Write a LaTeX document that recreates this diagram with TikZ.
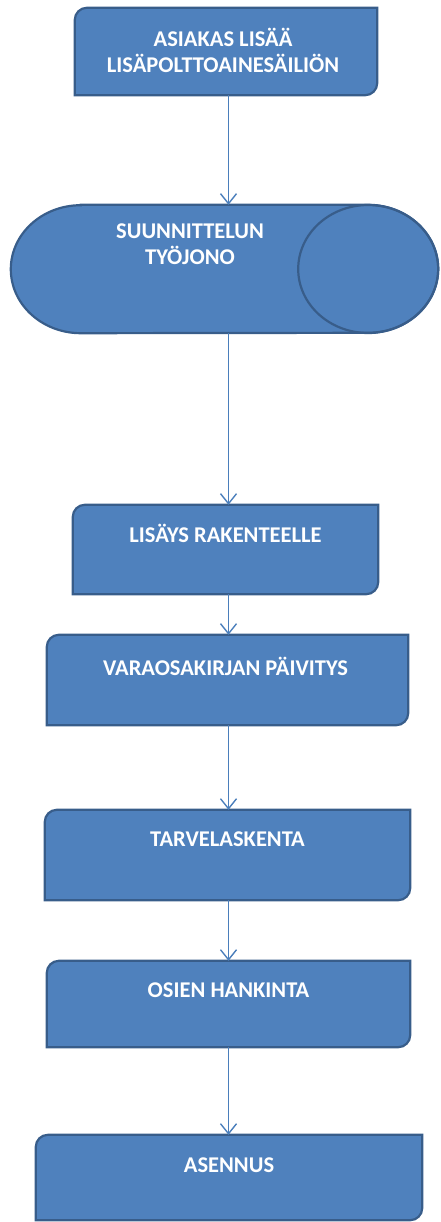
\documentclass[tikz,border=0pt]{standalone}
\usepackage{fontspec}
\setmainfont{Carlito}
\usetikzlibrary{arrows.meta,backgrounds}
\definecolor{boxfill}{HTML}{4F81BD}
\definecolor{boxedge}{HTML}{385D8A}
\definecolor{linkblue}{HTML}{4A7EBB}
\begin{document}
\begin{tikzpicture}[x=1pt,y=-1pt,
  frame/.style={rectangle,draw=none,fill=none,inner sep=0pt},
  shapefill/.style={fill=boxfill,draw=boxedge,line width=2.2pt},
  txt/.style={text=white,font=\bfseries\fontsize{22.5}{26}\selectfont,align=center,inner sep=0pt},
  flow/.style={draw=linkblue,line width=1.4pt,-{Straight Barb[length=10pt,width=16pt]}}]
\useasboundingbox (0,0) rectangle (441,1222);

% outline frames of the process steps and the storage queue
\node[frame,minimum width=302pt,minimum height=87pt] (b1) at (226,51.5) {};
\node[frame,minimum width=427pt,minimum height=128pt] (cyl) at (224.5,269) {};
\node[frame,minimum width=305pt,minimum height=89pt] (b2) at (225.5,549.5) {};
\node[frame,minimum width=361pt,minimum height=90pt] (b3) at (227.5,680) {};
\node[frame,minimum width=365pt,minimum height=90pt] (b4) at (227.5,855) {};
\node[frame,minimum width=363pt,minimum height=86pt] (b5) at (228.5,1004) {};
\node[frame,minimum width=386pt,minimum height=85pt] (b6) at (229,1177.5) {};

\begin{scope}[on background layer]
  % process boxes: rounded top-left and bottom-right corners
  \foreach \n in {b1,b2,b3,b4,b5,b6}
    \path[shapefill] ([yshift=-12pt]\n.north west)
      arc[start angle=180,end angle=90,radius=12pt]
      -- (\n.north east) -- ([yshift=12pt]\n.south east)
      arc[start angle=0,end angle=-90,radius=12pt]
      -- (\n.south west) -- cycle;
  % horizontal cylinder (work queue)
  \path[shapefill] ([xshift=70pt]cyl.north west) -- ([xshift=-70pt]cyl.north east)
    arc[start angle=90,end angle=-90,x radius=70pt,y radius=64pt]
    -- ([xshift=70pt]cyl.south west)
    arc[start angle=270,end angle=90,x radius=70pt,y radius=64pt] -- cycle;
  \draw[draw=boxedge,line width=2.2pt] ([xshift=-70pt]cyl.east) ellipse[x radius=70pt,y radius=64pt];
\end{scope}

% labels
\node[txt] (t1) at (223,50) {ASIAKAS LISÄÄ\\LISÄPOLTTOAINESÄILIÖN};
\node[txt] (t0) at (190,244) {SUUNNITTELUN\\TYÖJONO};
\node[txt] (t2) at ([yshift=-29pt]b2.north) {LISÄYS RAKENTEELLE};
\node[txt] (t3) at ([yshift=-32pt,xshift=-2pt]b3.north) {VARAOSAKIRJAN PÄIVITYS};
\node[txt] (t4) at ([yshift=-29pt]b4.north) {TARVELASKENTA};
\node[txt] (t5) at ([yshift=-29pt]b5.north) {OSIEN HANKINTA};
\node[txt] (t6) at ([yshift=-30pt]b6.north) {ASENNUS};

% connectors
\coordinate (col) at (228.5,0);
\draw[flow] (b1.south -| col) -- (cyl.north -| col);
\draw[flow] (cyl.south -| col) -- (b2.north -| col);
\draw[flow] (b2.south -| col) -- (b3.north -| col);
\draw[flow] (b3.south -| col) -- (b4.north -| col);
\draw[flow] (b4.south -| col) -- (b5.north -| col);
\draw[flow] (b5.south -| col) -- (b6.north -| col);
\end{tikzpicture}
\end{document}
